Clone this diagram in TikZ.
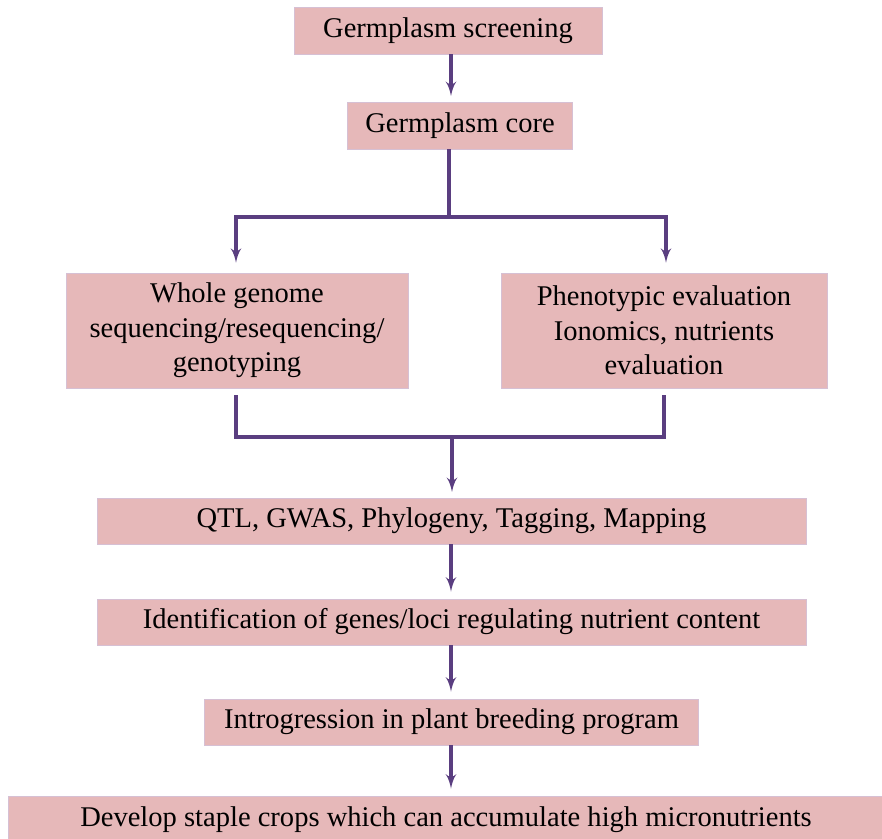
\documentclass[tikz,border=0pt]{standalone}
\usepackage{fontspec}
\setmainfont{Liberation Serif}
\usepackage{tikz}
\usetikzlibrary{shapes,arrows}
\definecolor{boxfill}{RGB}{230,184,185}
\definecolor{boxline}{RGB}{214,192,212}
\definecolor{flowcol}{RGB}{90,62,128}
\tikzstyle{block} = [rectangle, draw=boxline, fill=boxfill, line width=0.6pt,
    text centered, align=center, inner sep=0pt, minimum height=1.15cm,
    font=\fontsize{20.3}{24.6}\selectfont]
\tikzstyle{blocktall} = [block, minimum height=2.875cm]
\tikzstyle{line} = [draw=flowcol, line width=2.5pt, -latex']

\begin{document}
\begin{tikzpicture}[node distance = 2.5cm, auto]
    \useasboundingbox (0,0) rectangle (22.05,-20.95);
    % Place nodes
    \node [block, minimum width=7.7cm, minimum height=1.175cm] (screen) at (11.2,-0.7625) {Germplasm screening};
    \node [block, minimum width=5.625cm, minimum height=1.175cm, below of=screen, node distance=2.375cm, xshift=0.3cm] (core) {Germplasm core};
    \node [blocktall, minimum width=8.55cm] (wgs) at (5.925,-8.2625) {Whole genome\\sequencing/resequencing/\\genotyping};
    \node [blocktall, minimum width=8.15cm] (pheno) at (16.6,-8.2625) {Phenotypic evaluation\\Ionomics, nutrients\\evaluation};
    \node [block, minimum width=17.725cm] (qtl) at (11.2875,-13.025) {QTL, GWAS, Phylogeny, Tagging, Mapping};
    \node [block, minimum width=17.725cm, below of=qtl, node distance=2.525cm] (ident) {Identification of genes/loci regulating nutrient content};
    \node [block, minimum width=12.35cm, below of=ident, node distance=2.5cm] (intro) {Introgression in plant breeding program};
    \node [block, minimum width=21.9cm, minimum height=1.2cm, below of=intro, node distance=2.45cm, xshift=-0.1375cm] (develop) {Develop staple crops which can accumulate high micronutrients};
    % branch and merge points
    \coordinate (split) at (11.225,-5.425);
    \coordinate (merge) at (11.3,-10.925);
    % Draw edges
    \path [line, shorten >=4pt] (screen.south -| 11.275,0) -- (core.north -| 11.275,0);
    \path [draw=flowcol, line width=2.5pt] (core.south -| split) -- (split);
    \path [line, shorten >=7pt] (split) -| (wgs.north -| 5.9,0);
    \path [line, shorten >=7pt] (split) -| (pheno.north -| 16.65,0);
    \path [draw=flowcol, line width=2.5pt, shorten <=5pt] (wgs.south -| 5.9,0) |- (merge);
    \path [draw=flowcol, line width=2.5pt, shorten <=5pt] (pheno.south -| 16.6,0) |- (merge);
    \path [line, shorten >=4pt] (merge) -- (merge |- qtl.north);
    \path [line, shorten >=5pt] (qtl.south -| 11.275,0) -- (ident.north -| 11.275,0);
    \path [line, shorten >=5pt] (ident.south -| 11.275,0) -- (intro.north -| 11.275,0);
    \path [line, shorten >=5pt] (intro.south -| 11.275,0) -- (develop.north -| 11.275,0);
\end{tikzpicture}
\end{document}
